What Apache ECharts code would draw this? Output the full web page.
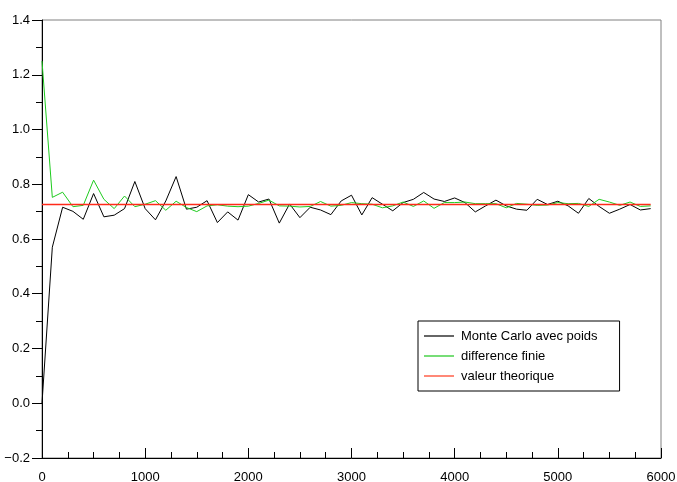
<!DOCTYPE html>
<html>
<head>
<meta charset="utf-8">
<script src="https://cdn.jsdelivr.net/npm/echarts@6/dist/echarts.min.js"></script>
<style>
  html, body { margin: 0; padding: 0; background: #fff; }
  #chart { width: 677px; height: 482px; }
</style>
</head>
<body>
<div id="chart"></div>
<script>
// sample sizes (x)
const samples = [0, 100, 200, 300, 400, 500, 600, 700, 800, 900,
  1000, 1100, 1200, 1300, 1400, 1500, 1600, 1700, 1800, 1900,
  2000, 2100, 2200, 2300, 2400, 2500, 2600, 2700, 2800, 2900,
  3000, 3100, 3200, 3300, 3400, 3500, 3600, 3700, 3800, 3900,
  4000, 4100, 4200, 4300, 4400, 4500, 4600, 4700, 4800, 4900,
  5000, 5100, 5200, 5300, 5400, 5500, 5600, 5700, 5800, 5900]

const monteCarlo = [0.0, 0.57, 0.716, 0.701, 0.672, 0.766, 0.681, 0.687, 0.711, 0.81,
  0.711, 0.670, 0.739, 0.828, 0.709, 0.716, 0.740, 0.660, 0.699, 0.669,
  0.762, 0.735, 0.746, 0.658, 0.728, 0.678, 0.716, 0.706, 0.689, 0.739,
  0.760, 0.688, 0.751, 0.727, 0.703, 0.733, 0.745, 0.770, 0.746, 0.737,
  0.750, 0.733, 0.699, 0.721, 0.742, 0.721, 0.709, 0.705, 0.745, 0.726,
  0.738, 0.721, 0.694, 0.748, 0.719, 0.694, 0.709, 0.726, 0.706, 0.711]

const diffFinie = [1.25, 0.752, 0.771, 0.718, 0.723, 0.815, 0.745, 0.711, 0.757, 0.718,
  0.727, 0.740, 0.705, 0.738, 0.715, 0.700, 0.721, 0.725, 0.720, 0.718,
  0.720, 0.730, 0.742, 0.721, 0.720, 0.717, 0.719, 0.737, 0.720, 0.723,
  0.733, 0.729, 0.727, 0.714, 0.721, 0.735, 0.719, 0.739, 0.712, 0.733,
  0.733, 0.735, 0.729, 0.729, 0.729, 0.714, 0.730, 0.727, 0.723, 0.724,
  0.733, 0.729, 0.730, 0.719, 0.745, 0.735, 0.723, 0.735, 0.719, 0.721]

const theoX = [0, 5900]
const theoY = [0.726, 0.726]

const seriesNames = ['Monte Carlo avec poids', 'difference finie', 'valeur theorique']
const lineColors = ['#000000', '#1ecb1e', '#ff2a1a']
const legendColors = ['#666666', '#77dd77', '#ff8877']

const chart = echarts.init(document.getElementById('chart'))

const pairs = (xs, ys) => xs.map((x, i) => [x, ys[i]])

const font = 'Liberation Sans, Arial, sans-serif'

chart.setOption({
  animation: false,
  grid: {
    left: 42, right: 16, top: 20, bottom: 24,
    outerBoundsMode: 'none',
    containLabel: false,
    show: true,
    borderColor: '#808080',
    borderWidth: 1
  },
  legend: {
    data: seriesNames.map((name, i) => ({
      name: name,
      icon: 'rect',
      itemStyle: { color: legendColors[i] }
    })),
    orient: 'vertical',
    left: 418,
    top: 321,
    padding: [8, 22, 8, 6],
    itemWidth: 30,
    itemHeight: 2,
    itemGap: 6,
    borderColor: '#000',
    borderWidth: 1,
    borderRadius: 0,
    backgroundColor: '#fff',
    textStyle: { fontFamily: font, fontSize: 13, lineHeight: 14, color: '#000', padding: [0, 0, 0, 2] }
  },
  xAxis: {
    type: 'value',
    min: 0,
    max: 6000,
    interval: 1000,
    axisLine: { show: true, onZero: false, lineStyle: { color: '#000', width: 1 } },
    axisTick: { show: true, inside: true, length: 10, lineStyle: { color: '#000' } },
    minorTick: { show: true, splitNumber: 4, length: 6, lineStyle: { color: '#000' } },
    splitLine: { show: false },
    axisLabel: {
      fontFamily: font, fontSize: 13, color: '#000', margin: 13,
      formatter: v => String(v)
    }
  },
  yAxis: {
    type: 'value',
    min: -0.2,
    max: 1.4,
    interval: 0.2,
    axisLine: { show: true, onZero: false, lineStyle: { color: '#000', width: 1 } },
    axisTick: { show: true, length: 10, lineStyle: { color: '#000' } },
    minorTick: { show: true, splitNumber: 2, length: 6, lineStyle: { color: '#000' } },
    splitLine: { show: false },
    axisLabel: {
      fontFamily: font, fontSize: 13, color: '#000', margin: 12,
      formatter: v => v.toFixed(1).replace('-', '\u2212')
    }
  },
  series: [
    {
      name: seriesNames[0],
      type: 'line',
      data: pairs(samples, monteCarlo),
      symbol: 'none',
      lineStyle: { color: lineColors[0], width: 1 },
      itemStyle: { color: lineColors[0] }
    },
    {
      name: seriesNames[1],
      type: 'line',
      data: pairs(samples, diffFinie),
      symbol: 'none',
      lineStyle: { color: lineColors[1], width: 1 },
      itemStyle: { color: lineColors[1] }
    },
    {
      name: seriesNames[2],
      type: 'line',
      data: pairs(theoX, theoY),
      symbol: 'none',
      lineStyle: { color: lineColors[2], width: 1.3 },
      itemStyle: { color: lineColors[2] }
    }
  ]
})
</script>
</body>
</html>
